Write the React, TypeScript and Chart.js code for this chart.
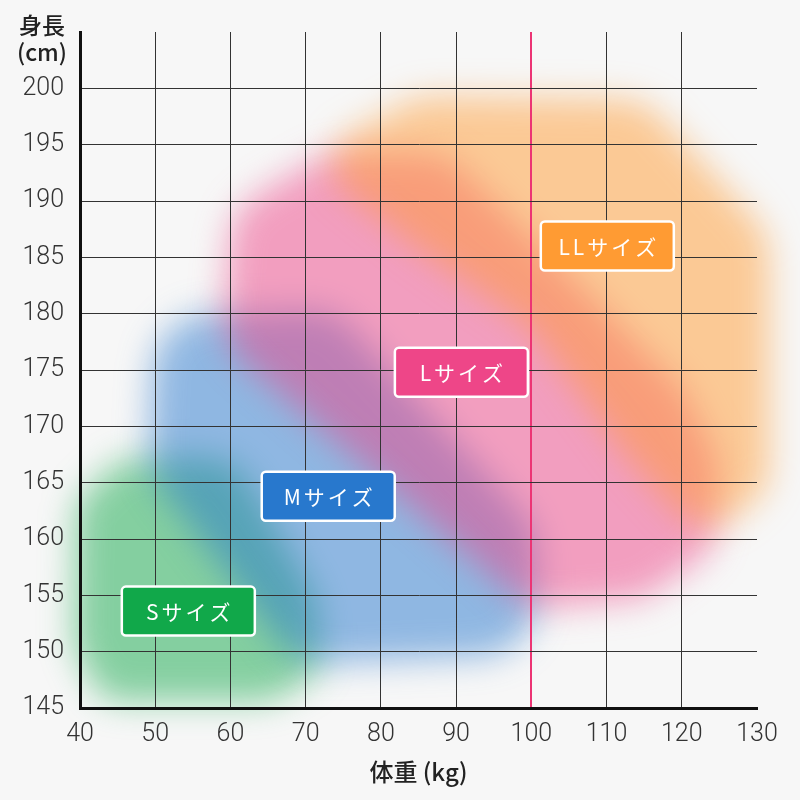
import React, { useEffect, useRef } from "react";
import { Chart, registerables } from "chart.js";

Chart.register(...registerables);

// Axis ranges / ticks
const weightMin = 40;
const weightMax = 130;
const weightStep = 10;
const heightMin = 145;
const heightMax = 205;
const heightStep = 5;
const highlightWeight = 100;

// Size names and label anchor positions (weight kg, height cm)
const sizeNames = ["Sサイズ", "Mサイズ", "Lサイズ", "LLサイズ"];
const labelWeights = [54.4, 73.0, 90.7, 110.1];
const labelHeights = [153.6, 163.8, 174.8, 186.0];
const sizeColors = ["#11a84a", "#2878cd", "#ee4688", "#ff9b33"];

// Region outlines for each size (weight kg, height cm)
const sWeights = [39.5, 45.3, 60.5, 71.5, 72.0, 65.3, 43.0, 39.2];
const sHeights = [163.2, 167.0, 167.4, 154.6, 148.2, 145.6, 145.6, 150.5];
const mWeights = [50.0, 73.8, 100.6, 101.0, 68.8, 49.0];
const mHeights = [179.8, 180.4, 161.0, 149.8, 148.9, 166.1];
const lWeights = [60.2, 72.8, 88.5, 102.5, 120.2, 124.8, 124.4, 115.0, 99.8, 58.8];
const lHeights = [189.2, 194.2, 194.2, 185.2, 173.2, 167.0, 159.2, 154.7, 153.8, 177.4];
const llWeights = [74.2, 85.2, 115.0, 131.6, 131.6, 123.0, 113.1, 99.8, 84.3, 73.6];
const llHeights = [195.4, 199.3, 199.0, 187.0, 164.5, 159.8, 167.0, 178.8, 186.1, 191.8];

const regionWeights = [sWeights, mWeights, lWeights, llWeights];
const regionHeights = [sHeights, mHeights, lHeights, llHeights];

const tickFont = "'Roboto', sans-serif";
const jpFont = "'Noto Sans CJK JP', 'Noto Sans', sans-serif";

function roundedPolygon(ctx: CanvasRenderingContext2D, pts: number[][], r: number) {
  const n = pts.length;
  const mid = (a: number[], b: number[]) => [(a[0] + b[0]) / 2, (a[1] + b[1]) / 2];
  const start = mid(pts[n - 1], pts[0]);
  ctx.moveTo(start[0], start[1]);
  for (let i = 0; i < n; i++) {
    const p = pts[i];
    const next = pts[(i + 1) % n];
    const m = mid(p, next);
    const prev = pts[(i - 1 + n) % n];
    const l1 = Math.hypot(p[0] - prev[0], p[1] - prev[1]) / 2;
    const l2 = Math.hypot(next[0] - p[0], next[1] - p[1]) / 2;
    const rr = Math.min(r, l1, l2);
    ctx.arcTo(p[0], p[1], m[0], m[1], rr);
  }
  ctx.closePath();
}

const bgPlugin = {
  id: "blobs",
  beforeDraw(chart: any) {
    const { ctx } = chart;
    const xs = chart.scales.x;
    const ys = chart.scales.y;
    ctx.save();
    ctx.fillStyle = "#f7f7f7";
    ctx.fillRect(0, 0, chart.width, chart.height);
    ctx.filter = "blur(17px)";
    ctx.globalAlpha = 0.5;
    for (let i = 0; i < regionWeights.length; i++) {
      const ws = regionWeights[i];
      const hs = regionHeights[i];
      const pts = ws.map((w, j) => [xs.getPixelForValue(w), ys.getPixelForValue(hs[j])]);
      ctx.beginPath();
      roundedPolygon(ctx, pts, 60);
      ctx.fillStyle = sizeColors[i];
      ctx.fill();
    }
    ctx.restore();
  },
  afterDraw(chart: any) {
    const { ctx } = chart;
    const xs = chart.scales.x;
    const ys = chart.scales.y;
    ctx.save();
    // size labels
    const bw = 133;
    const bh = 49;
    for (let i = 0; i < sizeNames.length; i++) {
      const cx = xs.getPixelForValue(labelWeights[i]);
      const cy = ys.getPixelForValue(labelHeights[i]);
      ctx.beginPath();
      ctx.roundRect(cx - bw / 2, cy - bh / 2, bw, bh, 4);
      ctx.fillStyle = sizeColors[i];
      ctx.fill();
      ctx.lineWidth = 2.5;
      ctx.strokeStyle = "#ffffff";
      ctx.stroke();
      ctx.fillStyle = "#ffffff";
      ctx.font = `400 21px ${jpFont}`;
      (ctx as any).letterSpacing = "3px";
      ctx.textAlign = "center";
      ctx.textBaseline = "middle";
      ctx.fillText(sizeNames[i], cx + 1.5, cy + 1);
      (ctx as any).letterSpacing = "0px";
    }
    // y axis title
    ctx.fillStyle = "#222";
    ctx.font = `500 23px ${jpFont}`;
    ctx.textAlign = "center";
    ctx.textBaseline = "middle";
    ctx.fillText("身長", 42, 25);
    ctx.fillText("(cm)", 42, 52);
    ctx.restore();
  },
};

export default function App() {
  const ref = useRef<HTMLCanvasElement | null>(null);
  useEffect(() => {
    document.body.style.margin = "0";
    document.body.style.background = "#f7f7f7";
    const canvas = ref.current;
    if (!canvas) return;
    const chart = new Chart(canvas, {
      type: "scatter",
      data: { datasets: [] },
      plugins: [bgPlugin],
      options: {
        animation: false,
        responsive: false,
        devicePixelRatio: 1,
        layout: { padding: { top: 32, right: 43, left: 0, bottom: 0 } },
        plugins: { legend: { display: false }, tooltip: { enabled: false } },
        scales: {
          x: {
            type: "linear",
            min: weightMin,
            max: weightMax,
            afterFit: (s: any) => {
              s.height = 92;
            },
            ticks: {
              stepSize: weightStep,
              color: "#333",
              font: { family: tickFont, size: 25, weight: "300" },
              padding: 12,
              maxRotation: 0,
            },
            grid: {
              drawTicks: false,
              color: (c: any) => {
                const v = c.tick && c.tick.value;
                if (v === highlightWeight) return "#ec3474";
                if (v === weightMin || v === weightMax) return "rgba(0,0,0,0)";
                return "#333";
              },
              lineWidth: (c: any) => (c.tick && c.tick.value === highlightWeight ? 2 : 1),
            },
            border: { display: true, color: "#111", width: 3 },
            title: {
              display: true,
              text: "体重 (kg)",
              color: "#222",
              font: { family: jpFont, size: 24, weight: "500" },
              padding: { top: 0, bottom: 14 },
            },
          },
          y: {
            type: "linear",
            min: heightMin,
            max: heightMax,
            afterFit: (s: any) => {
              s.width = 80;
            },
            ticks: {
              stepSize: heightStep,
              color: "#333",
              font: { family: tickFont, size: 25, weight: "300" },
              padding: 16,
              callback: (v: any) => (v === heightMax ? "" : String(v)),
            },
            grid: {
              drawTicks: false,
              color: (c: any) => {
                const v = c.tick && c.tick.value;
                if (v === heightMin || v === heightMax) return "rgba(0,0,0,0)";
                return "#333";
              },
              lineWidth: 1,
            },
            border: { display: true, color: "#111", width: 3 },
          },
        },
      },
    });
    return () => chart.destroy();
  }, []);
  return (
    <div style={{ width: 800, height: 800, background: "#f7f7f7" }}>
      <canvas ref={ref} width={800} height={800} style={{ display: "block" }} />
    </div>
  );
}
